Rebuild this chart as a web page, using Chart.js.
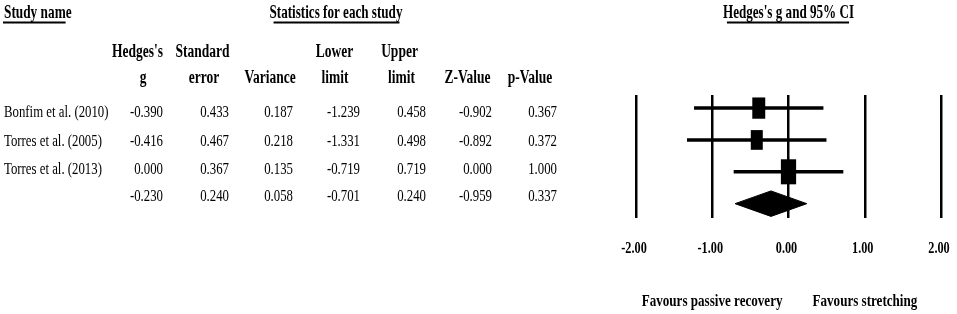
<!DOCTYPE html>
<html>
<head>
<meta charset="utf-8">
<script src="https://cdn.jsdelivr.net/npm/chart.js@4/dist/chart.umd.min.js"></script>
<style>
html,body{margin:0;padding:0;background:#fff;}
#wrap{width:957px;height:314px;position:relative;}
</style>
</head>
<body>
<div id="wrap"><canvas id="c" width="957" height="314"></canvas></div>
<script>
// ---- data ----
const studies = ['Bonfim et al. (2010)', 'Torres et al. (2005)', 'Torres et al. (2013)'];
const hedgesG = [-0.390, -0.416, 0.000];
const stdErr = [0.433, 0.467, 0.367];
const variance = [0.187, 0.218, 0.135];
const lowerLimit = [-1.239, -1.331, -0.719];
const upperLimit = [0.458, 0.498, 0.719];
const zValue = [-0.902, -0.892, 0.000];
const pValue = [0.367, 0.372, 1.000];
// pooled: g, SE, variance, lower, upper, Z, p
const pooled = [-0.230, 0.240, 0.058, -0.701, 0.240, -0.959, 0.337];
const xTicks = [-2, -1, 0, 1, 2];
const tickLabels = ['-2.00', '-1.00', '0.00', '1.00', '2.00'];
const headerLine1 = ["Hedges's", 'Standard', '', 'Lower', 'Upper', '', ''];
const headerLine2 = ['g', 'error', 'Variance', 'limit', 'limit', 'Z-Value', 'p-Value'];
const titles = ['Study name', 'Statistics for each study', "Hedges's g and 95% CI"];
const favourLabels = ['Favours passive recovery', 'Favours stretching'];

// ---- layout (styling only) ----
const FONT = '"Liberation Serif", "Times New Roman", serif';
const colRight = [163, 229, 293, 360, 426, 492, 557];
const h1Center = [137.5, 202.5, 0, 334.5, 399.5, 0, 0];
const h2Center = [143, 204, 270, 335, 401.5, 467.5, 530];
const rowBase = [117, 146, 174, 201];

function txt(ctx, s, x, y, align, bold, size, sx) {
  ctx.save();
  ctx.font = (bold ? 'bold ' : '') + size + 'px ' + FONT;
  ctx.textAlign = align;
  ctx.textBaseline = 'alphabetic';
  ctx.fillStyle = '#000';
  ctx.translate(x, y);
  ctx.scale(sx, 1);
  ctx.fillText(s, 0, 0);
  const w = ctx.measureText(s).width * sx;
  ctx.restore();
  return w;
}
function hline(ctx, x0, x1, y, lw) {
  ctx.save();
  ctx.strokeStyle = '#000';
  ctx.lineWidth = lw;
  ctx.beginPath(); ctx.moveTo(x0, y); ctx.lineTo(x1, y); ctx.stroke();
  ctx.restore();
}

const rows = studies.map((s, i) => i + 1);
const pooledRow = studies.length + 1;

const ciDatasets = studies.map((s, i) => ({
  label: s,
  data: [{x: lowerLimit[i], y: rows[i]}, {x: upperLimit[i], y: rows[i]}],
  showLine: true,
  borderColor: '#000',
  borderWidth: 3.5,
  pointRadius: 0,
  fill: false
}));
const diamond = {
  label: 'Pooled',
  data: [
    {x: pooled[3], y: pooledRow},
    {x: pooled[0], y: pooledRow - 0.4},
    {x: pooled[4], y: pooledRow},
    {x: pooled[0], y: pooledRow + 0.4},
    {x: pooled[3], y: pooledRow}
  ],
  showLine: true,
  borderColor: '#000',
  backgroundColor: '#000',
  borderWidth: 1,
  pointRadius: 0,
  fill: 'shape',
  tension: 0
};

const tablePlugin = {
  id: 'tablePlugin',
  afterDatasetsDraw(chart) {
    const ctx = chart.ctx;
    const xs = chart.scales.x, ys = chart.scales.y;
    // weighted squares
    studies.forEach((s, i) => {
      const w = Math.sqrt(1 / variance[i]);
      const bw = 5.6 * w, bh = 9.2 * w;
      const px = xs.getPixelForValue(hedgesG[i]);
      const py = ys.getPixelForValue(rows[i]);
      ctx.save();
      ctx.fillStyle = '#000';
      ctx.fillRect(px - bw / 2, py - bh / 2, bw, bh);
      ctx.restore();
    });
  },
  afterDraw(chart) {
    const ctx = chart.ctx;
    const xs = chart.scales.x;
    // titles
    let w = txt(ctx, titles[0], 4, 18, 'left', true, 19, 0.7);
    hline(ctx, 3, 3 + w - 5, 22.5, 2);
    w = txt(ctx, titles[1], 336, 18, 'center', true, 19, 0.69);
    hline(ctx, 336 - w / 2 + 4, 336 + w / 2 - 3, 22.5, 2);
    const cx = (xs.left + xs.right) / 2;
    w = txt(ctx, titles[2], cx, 18, 'center', true, 19, 0.69);
    hline(ctx, cx - w / 2 + 4, cx + w / 2 - 5, 22.5, 2);
    // column headers
    headerLine1.forEach((h, j) => { if (h) txt(ctx, h, h1Center[j], 57, 'center', true, 18, 0.75); });
    headerLine2.forEach((h, j) => { if (h) txt(ctx, h, h2Center[j], 83, 'center', true, 18, 0.75); });
    // rows
    studies.forEach((s, i) => {
      txt(ctx, s, 4, rowBase[i], 'left', false, 16, 0.8);
      const vals = [hedgesG[i], stdErr[i], variance[i], lowerLimit[i], upperLimit[i], zValue[i], pValue[i]];
      vals.forEach((v, j) => txt(ctx, v.toFixed(3), colRight[j], rowBase[i], 'right', false, 16, 0.8));
    });
    pooled.forEach((v, j) => txt(ctx, v.toFixed(3), colRight[j], rowBase[3], 'right', false, 16, 0.8));
    // axis tick labels
    xTicks.forEach((t, k) => txt(ctx, tickLabels[k], xs.getPixelForValue(t) - 2, 253, 'center', true, 17, 0.72));
    // favours labels
    const zx = xs.getPixelForValue(0);
    txt(ctx, favourLabels[0], zx - 6, 306, 'right', true, 17, 0.77);
    txt(ctx, favourLabels[1], zx + 24, 306, 'left', true, 17, 0.77);
  }
};

new Chart(document.getElementById('c'), {
  type: 'scatter',
  data: { datasets: [...ciDatasets, diamond] },
  options: {
    responsive: false,
    animation: false,
    events: [],
    layout: { padding: { left: 636, right: 16, top: 95, bottom: 0 } },
    plugins: { legend: { display: false }, tooltip: { enabled: false }, title: { display: false } },
    scales: {
      x: {
        type: 'linear', min: -2, max: 2,
        afterBuildTicks(s) { s.ticks = xTicks.map(v => ({value: v})); },
        afterFit(s) { s.height = 96; },
        grid: { color: '#000', lineWidth: 2.5, drawTicks: false, tickLength: 0 },
        border: { display: false },
        ticks: { display: false }
      },
      y: {
        type: 'linear', reverse: true, min: 0.589, max: 4.45, display: false
      }
    }
  },
  plugins: [tablePlugin]
});
</script>
</body>
</html>
